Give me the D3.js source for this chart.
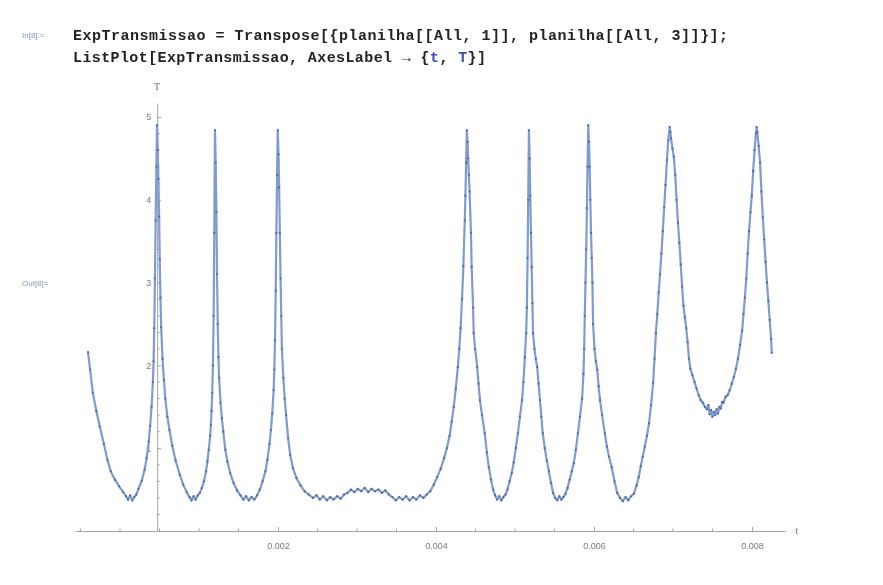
<!DOCTYPE html>
<html>
<head>
<meta charset="utf-8">
<script src="https://cdn.jsdelivr.net/npm/d3@7"></script>
<style>
  body { margin: 0; background: #fff; }
  svg { display: block; }
</style>
</head>
<body>
<div id="chart"></div>
<script>
// ExpTransmissao: pairs [t (s), T], one array per stretch between peaks
var trechoInicio = [
  [-0.000405,2.16],[-0.000379,1.95],[-0.000344,1.67],[-0.000300,1.45],[-0.000256,1.26],[-0.000204,1.05],
  [-0.000160,0.86],[-0.000117,0.72],[-0.000064,0.62],[-0.000012,0.54],[0.000040,0.47],[0.000075,0.42],
  [0.000102,0.38],[0.000128,0.43],[0.000154,0.37],[0.000180,0.41],[0.000206,0.44],[0.000233,0.51],
  [0.000276,0.61],[0.000311,0.74],[0.000337,0.88],[0.000364,1.08],[0.000381,1.27],[0.000399,1.50],
  [0.000416,1.80],[0.000425,2.05],[0.000433,2.45],[0.000442,3.05],[0.000451,3.75],[0.000460,4.40],
  [0.000468,4.90]
];
var trecho1 = [
  [0.000477,4.60],[0.000486,4.25],[0.000495,3.80],[0.000503,3.28],[0.000512,2.82],[0.000521,2.46],
  [0.000538,2.08],[0.000556,1.82],[0.000573,1.60],[0.000599,1.38],[0.000626,1.22],[0.000661,1.03],
  [0.000704,0.85],[0.000757,0.68],[0.000800,0.56],[0.000844,0.47],[0.000879,0.41],[0.000905,0.37],
  [0.000931,0.42],[0.000958,0.38],[0.000984,0.43],[0.001010,0.46],[0.001036,0.52],[0.001062,0.60],
  [0.001089,0.72],[0.001106,0.84],[0.001123,0.98],[0.001141,1.15],[0.001150,1.28],[0.001158,1.45],
  [0.001167,1.67],[0.001176,2.00],[0.001185,2.60],[0.001193,3.60],[0.001202,4.84]
];
var trecho2 = [
  [0.001211,4.45],[0.001220,3.85],[0.001228,3.10],[0.001237,2.50],[0.001246,2.10],[0.001254,1.85],
  [0.001272,1.55],[0.001289,1.36],[0.001307,1.20],[0.001333,0.98],[0.001359,0.84],[0.001394,0.70],
  [0.001438,0.58],[0.001482,0.49],[0.001525,0.43],[0.001560,0.38],[0.001595,0.42],[0.001630,0.37],
  [0.001665,0.41],[0.001700,0.38],[0.001735,0.43],[0.001770,0.50],[0.001805,0.60],[0.001840,0.72],
  [0.001866,0.86],[0.001892,1.05],[0.001910,1.22],[0.001927,1.42],[0.001944,1.70],[0.001953,1.95],
  [0.001962,2.30],[0.001971,2.90],[0.001979,3.60],[0.001988,4.30],[0.001997,4.84]
];
var trecho3 = [
  [0.002006,4.55],[0.002014,4.15],[0.002023,3.60],[0.002032,3.05],[0.002041,2.60],[0.002049,2.20],
  [0.002067,1.85],[0.002084,1.60],[0.002102,1.40],[0.002128,1.12],[0.002154,0.92],[0.002189,0.76],
  [0.002233,0.64],[0.002285,0.55],[0.002337,0.48],[0.002390,0.44],[0.002442,0.40],[0.002486,0.43],
  [0.002530,0.38],[0.002573,0.42],[0.002617,0.37],[0.002661,0.41],[0.002704,0.38],[0.002748,0.42],
  [0.002792,0.39],[0.002835,0.44],[0.002879,0.46],[0.002923,0.50],[0.002966,0.47],[0.003010,0.51],
  [0.003054,0.48],[0.003097,0.52],[0.003141,0.47],[0.003185,0.51],[0.003228,0.48],[0.003272,0.50],
  [0.003316,0.46],[0.003359,0.49],[0.003403,0.44],[0.003447,0.41],[0.003490,0.37],[0.003534,0.41],
  [0.003578,0.38],[0.003621,0.42],[0.003665,0.37],[0.003709,0.41],[0.003752,0.38],[0.003796,0.43],
  [0.003840,0.40],[0.003883,0.44],[0.003927,0.48],[0.003971,0.56],[0.004014,0.65],[0.004058,0.75],
  [0.004102,0.88],[0.004137,1.00],[0.004172,1.15],[0.004198,1.32],[0.004224,1.50],[0.004250,1.72],
  [0.004276,1.98],[0.004294,2.20],[0.004311,2.45],[0.004329,2.80],[0.004346,3.20],[0.004364,3.75],
  [0.004372,4.05],[0.004381,4.45],[0.004390,4.84]
];
var trecho4 = [
  [0.004399,4.70],[0.004407,4.50],[0.004416,4.30],[0.004425,4.10],[0.004442,3.60],[0.004451,3.19],
  [0.004469,2.70],[0.004477,2.39],[0.004495,2.20],[0.004521,1.98],[0.004538,1.78],[0.004556,1.58],
  [0.004582,1.40],[0.004617,1.18],[0.004643,0.95],[0.004669,0.77],[0.004696,0.62],[0.004722,0.50],
  [0.004748,0.43],[0.004774,0.38],[0.004800,0.42],[0.004827,0.37],[0.004853,0.41],[0.004879,0.44],
  [0.004905,0.50],[0.004931,0.60],[0.004958,0.70],[0.004984,0.83],[0.005010,1.00],[0.005036,1.18],
  [0.005062,1.38],[0.005089,1.58],[0.005106,1.80],[0.005124,2.10],[0.005141,2.39],[0.005150,2.70],
  [0.005159,3.30],[0.005167,4.00],[0.005176,4.84]
];
var trecho5 = [
  [0.005185,4.50],[0.005193,4.05],[0.005202,3.60],[0.005211,3.19],[0.005220,2.75],[0.005228,2.39],
  [0.005246,2.20],[0.005263,2.08],[0.005281,1.98],[0.005298,1.78],[0.005316,1.58],[0.005333,1.38],
  [0.005351,1.18],[0.005377,1.00],[0.005403,0.85],[0.005429,0.72],[0.005456,0.58],[0.005482,0.46],
  [0.005508,0.40],[0.005534,0.37],[0.005560,0.42],[0.005587,0.38],[0.005613,0.41],[0.005639,0.45],
  [0.005665,0.52],[0.005691,0.62],[0.005718,0.72],[0.005744,0.82],[0.005770,0.98],[0.005796,1.18],
  [0.005822,1.38],[0.005849,1.60],[0.005866,1.90],[0.005875,2.20],[0.005883,2.60],[0.005892,3.00],
  [0.005901,3.40],[0.005910,3.90],[0.005918,4.40],[0.005927,4.90]
];
var trecho6 = [
  [0.005936,4.70],[0.005945,4.40],[0.005953,4.00],[0.005962,3.60],[0.005971,3.30],[0.005980,3.00],
  [0.005988,2.50],[0.006006,2.20],[0.006023,2.05],[0.006041,1.95],[0.006058,1.75],[0.006076,1.58],
  [0.006102,1.40],[0.006137,1.18],[0.006163,1.02],[0.006189,0.90],[0.006224,0.77],[0.006259,0.60],
  [0.006294,0.46],[0.006329,0.40],[0.006364,0.36],[0.006399,0.41],[0.006434,0.37],[0.006469,0.42],
  [0.006504,0.45],[0.006539,0.55],[0.006565,0.65],[0.006591,0.78],[0.006617,0.90],[0.006643,1.02],
  [0.006670,1.15],[0.006696,1.30],[0.006722,1.52],[0.006748,1.79],[0.006766,2.08],[0.006783,2.39],
  [0.006801,2.62],[0.006818,2.88],[0.006835,3.10],[0.006853,3.35],[0.006870,3.62],[0.006888,3.91],
  [0.006905,4.18],[0.006923,4.48],[0.006940,4.72],[0.006958,4.88]
];
var trechoFinal = [
  [0.006966,4.82],[0.006975,4.74],[0.006993,4.62],[0.007010,4.52],[0.007028,4.30],[0.007045,4.00],
  [0.007063,3.72],[0.007080,3.48],[0.007098,3.22],[0.007115,2.95],[0.007132,2.72],[0.007150,2.58],
  [0.007167,2.45],[0.007185,2.28],[0.007202,2.08],[0.007220,1.96],[0.007246,1.88],[0.007272,1.80],
  [0.007298,1.72],[0.007325,1.64],[0.007351,1.58],[0.007377,1.55],[0.007403,1.50],[0.007429,1.47],
  [0.007447,1.52],[0.007464,1.41],[0.007482,1.46],[0.007499,1.38],[0.007517,1.44],[0.007534,1.40],
  [0.007552,1.47],[0.007569,1.42],[0.007587,1.50],[0.007604,1.48],[0.007622,1.56],[0.007639,1.55],
  [0.007665,1.62],[0.007691,1.64],[0.007718,1.70],[0.007744,1.78],[0.007770,1.86],[0.007796,1.96],
  [0.007822,2.08],[0.007849,2.25],[0.007875,2.42],[0.007892,2.62],[0.007910,2.82],[0.007927,3.05],
  [0.007945,3.35],[0.007962,3.62],[0.007980,3.85],[0.007997,4.05],[0.008015,4.35],[0.008032,4.60],
  [0.008050,4.80],[0.008058,4.88],[0.008067,4.82],[0.008084,4.65],[0.008102,4.45],[0.008119,4.10],
  [0.008137,3.79],[0.008154,3.52],[0.008172,3.25],[0.008189,3.00],[0.008207,2.78],[0.008224,2.55],
  [0.008242,2.32],[0.008250,2.15]
];

// ticks
var xMajorTicks = [0.002, 0.004, 0.006, 0.008];
var xMinorTicks = [-0.0005, 0, 0.0005, 0.001, 0.0015, 0.0025, 0.003, 0.0035, 0.0045, 0.005, 0.0055, 0.0065, 0.007, 0.0075];
var yMajorTicks = [1, 2, 3, 4, 5];
var origemT = 0.00047; // where the vertical axis crosses

var width = 883;
var height = 585;

var dados = [].concat(trechoInicio, trecho1, trecho2, trecho3, trecho4, trecho5, trecho6, trechoFinal);

var svg = d3.select('#chart').append('svg')
  .attr('width', width)
  .attr('height', height);

svg.append('defs').append('filter').attr('id', 'soft')
  .append('feGaussianBlur').attr('stdDeviation', 0.45);

svg.append('rect').attr('width', width).attr('height', height).attr('fill', '#fff');

var root = svg.append('g').attr('filter', 'url(#soft)');

// --- notebook cell text
var mono = '"Liberation Mono", "DejaVu Sans Mono", monospace';
root.append('text')
  .attr('x', 22).attr('y', 38)
  .attr('font-family', '"Liberation Sans", sans-serif')
  .attr('font-size', 8)
  .attr('fill', '#8596b6')
  .text('In[8]:=');

root.append('text')
  .attr('x', 73).attr('y', 40)
  .attr('font-family', mono).attr('font-size', 15).attr('font-weight', 'bold')
  .attr('fill', '#222')
  .attr('textLength', 655).attr('lengthAdjust', 'spacing')
  .text('ExpTransmissao = Transpose[{planilha[[All, 1]], planilha[[All, 3]]}];');

var line2 = root.append('text')
  .attr('x', 73).attr('y', 62)
  .attr('font-family', mono).attr('font-size', 15).attr('font-weight', 'bold')
  .attr('fill', '#222')
  .attr('textLength', 413).attr('lengthAdjust', 'spacing');
line2.append('tspan').text('ListPlot[ExpTransmissao, AxesLabel ');
line2.append('tspan').attr('font-weight', 'normal').text('\u2192');
line2.append('tspan').text(' {');
line2.append('tspan').attr('fill', '#3a4fc0').text('t');
line2.append('tspan').text(', ');
line2.append('tspan').attr('fill', '#3a4fc0').text('T');
line2.append('tspan').text('}]');

root.append('text')
  .attr('x', 22).attr('y', 286)
  .attr('font-family', '"Liberation Sans", sans-serif')
  .attr('font-size', 8)
  .attr('fill', '#8596b6')
  .text('Out[8]=');

// --- scales
var x = d3.scaleLinear().domain([-0.00057, 0.00842]).range([75, 785.2]);
var y = d3.scaleLinear().domain([0, 5.17]).range([531, 103]);

var axisColor = '#a3a3a3';
var labelColor = '#7a7a7a';

// x axis
var gx = root.append('g')
  .attr('transform', 'translate(0,' + y(0) + ')')
  .call(d3.axisBottom(x)
    .tickValues(xMajorTicks)
    .tickSize(-4)
    .tickSizeOuter(0)
    .tickPadding(12)
    .tickFormat(d3.format('.3f')));
gx.select('.domain').attr('stroke', axisColor);
gx.selectAll('.tick line').attr('stroke', axisColor);
gx.selectAll('.tick text')
  .attr('fill', labelColor)
  .attr('font-size', 9)
  .attr('font-family', '"Liberation Sans", sans-serif');
gx.selectAll('.minor').data(xMinorTicks).enter().append('line')
  .attr('class', 'minor')
  .attr('x1', function(d){ return x(d); })
  .attr('x2', function(d){ return x(d); })
  .attr('y1', 0).attr('y2', -2.5)
  .attr('stroke', axisColor);

// y axis
var gy = root.append('g')
  .attr('transform', 'translate(' + x(origemT) + ',0)')
  .call(d3.axisLeft(y)
    .tickValues(yMajorTicks)
    .tickSize(-4)
    .tickSizeOuter(0)
    .tickPadding(6)
    .tickFormat(d3.format('d')));
gy.select('.domain').attr('stroke', axisColor);
gy.selectAll('.tick line').attr('stroke', axisColor);
gy.selectAll('.tick text')
  .attr('fill', labelColor)
  .attr('font-size', 9)
  .attr('font-family', '"Liberation Sans", sans-serif');
gy.selectAll('.minor').data(d3.range(0.2, 5.1, 0.2).filter(function(d){ return Math.abs(d - Math.round(d)) > 0.01; }))
  .enter().append('line')
  .attr('class', 'minor')
  .attr('x1', 0).attr('x2', 2.5)
  .attr('y1', function(d){ return y(d); })
  .attr('y2', function(d){ return y(d); })
  .attr('stroke', axisColor);

// axes labels
root.append('text')
  .attr('x', x(origemT)).attr('y', 90)
  .attr('text-anchor', 'middle')
  .attr('font-family', '"Liberation Serif", serif')
  .attr('font-size', 10)
  .attr('fill', '#6f6f6f')
  .text('T');
root.append('text')
  .attr('x', 797).attr('y', 534)
  .attr('text-anchor', 'middle')
  .attr('font-family', '"Liberation Serif", serif')
  .attr('font-size', 10)
  .attr('fill', '#6f6f6f')
  .text('t');

// --- the points
var linha = d3.line()
  .x(function(d){ return x(d[0]); })
  .y(function(d){ return y(d[1]); });

root.append('path')
  .datum(dados)
  .attr('d', linha)
  .attr('fill', 'none')
  .attr('stroke', '#7f9bd0')
  .attr('stroke-width', 2.2)
  .attr('stroke-linejoin', 'round');

root.selectAll('circle.pt')
  .data(dados)
  .enter()
  .append('circle')
  .attr('class', 'pt')
  .attr('cx', function(d){ return x(d[0]); })
  .attr('cy', function(d){ return y(d[1]); })
  .attr('r', 1.1)
  .attr('fill', '#4d6aa8');
</script>
</body>
</html>
